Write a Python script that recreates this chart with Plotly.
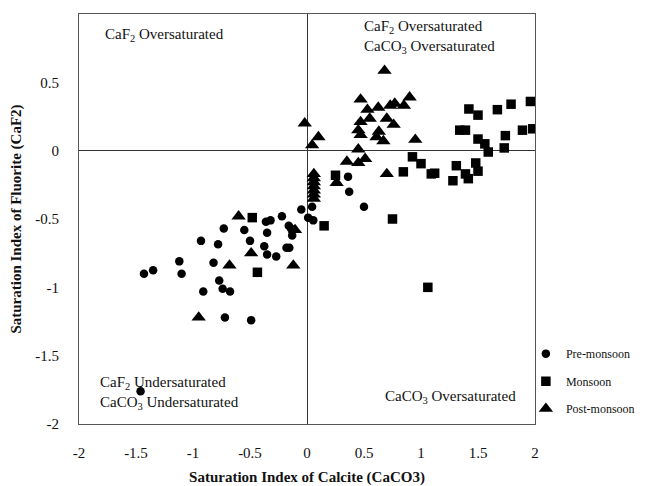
import plotly.graph_objects as go

# Pre-monsoon (circles)
pre_x = [-1.43, -1.35, -1.12, -1.10, -0.93, -0.91, -0.82, -0.78, -0.73, -0.77, -0.74, -0.675,
         -0.72, -0.49, -0.55, -0.50, -0.36, -0.32, -0.35, -0.375, -0.35, -0.27, -0.22, -0.16,
         -0.13, -0.14, -0.18, -0.155, -0.05, 0.01, 0.055, 0.045, 0.36, 0.37, 0.50, -1.46]
pre_y = [-0.90, -0.875, -0.81, -0.90, -0.66, -1.03, -0.82, -0.685, -0.57, -0.95, -1.01, -1.03,
         -1.22, -1.24, -0.58, -0.66, -0.52, -0.51, -0.60, -0.70, -0.76, -0.775, -0.48, -0.55,
         -0.62, -0.57, -0.71, -0.71, -0.43, -0.49, -0.51, -0.41, -0.19, -0.30, -0.41, -1.76]

# Monsoon (squares)
mon_x = [-0.48, -0.435, 0.15, 0.25, 0.75, 1.06, 0.925, 1.0, 0.845, 1.09, 1.12, 1.31, 1.28, 1.39,
         1.415, 1.48, 1.50, 1.34, 1.39, 1.42, 1.50, 1.50, 1.56, 1.59, 1.67, 1.74, 1.73, 1.79,
         1.89, 1.98, 1.96]
mon_y = [-0.49, -0.89, -0.55, -0.18, -0.50, -1.0, -0.045, -0.095, -0.155, -0.17, -0.165, -0.11,
         -0.22, -0.17, -0.205, -0.09, -0.15, 0.15, 0.15, 0.305, 0.26, 0.085, 0.05, -0.01, 0.30,
         0.11, 0.02, 0.34, 0.15, 0.16, 0.36]

# Post-monsoon (triangles)
post_x = [-0.60, -0.95, -0.68, -0.49, -0.105, -0.12, -0.02, 0.045, 0.10, 0.68, 0.47, 0.53, 0.625,
          0.73, 0.77, 0.85, 0.90, 0.55, 0.47, 0.45, 0.47, 0.70, 0.76, 0.63, 0.67, 0.61, 0.95,
          0.45, 0.35, 0.51, 0.45, 0.70, 0.26, 0.06, 0.06, 0.06, 0.06, 0.06, 0.06, 0.06]
post_y = [-0.48, -1.22, -0.84, -0.75, -0.58, -0.84, 0.20, 0.04, 0.10, 0.585, 0.375, 0.30, 0.315,
          0.33, 0.345, 0.33, 0.39, 0.235, 0.21, 0.15, 0.115, 0.235, 0.19, 0.14, 0.07, 0.10, 0.08,
          0.01, -0.08, -0.06, -0.09, -0.17, -0.235, -0.17, -0.20, -0.23, -0.26, -0.29, -0.32, -0.35]

x_ticks = [-2, -1.5, -1, -0.5, 0, 0.5, 1, 1.5, 2]
y_ticks = [-2, -1.5, -1, -0.5, 0, 0.5, 1]

FONT = "Liberation Serif, Times New Roman, serif"

fig = go.Figure()
fig.add_trace(go.Scatter(x=pre_x, y=pre_y, mode="markers", name="Pre-monsoon",
                         legendgroup="a",
                         marker=dict(symbol="circle", size=8.5, color="black")))
fig.add_trace(go.Scatter(x=mon_x, y=mon_y, mode="markers", name="Monsoon",
                         legendgroup="b",
                         marker=dict(symbol="square", size=9.5, color="black")))
fig.add_trace(go.Scatter(x=post_x, y=post_y, mode="markers", name="Post-monsoon",
                         legendgroup="c",
                         marker=dict(symbol="triangle-up", size=12.5, color="black")))

ann_font = dict(family=FONT, size=15, color="#111")
annotations = [
    dict(x=-1.79, y=0.845, text="CaF<sub>2</sub> Oversaturated", xanchor="left", yanchor="middle",
         showarrow=False, font=ann_font, align="left"),
    dict(x=0.48, y=0.835, text="CaF<sub>2</sub> Oversaturated<br>CaCO<sub>3</sub> Oversaturated",
         xanchor="left", yanchor="middle", showarrow=False, font=ann_font, align="left"),
    dict(x=-1.83, y=-1.77, text="CaF<sub>2</sub> Undersaturated<br>CaCO<sub>3</sub> Undersaturated",
         xanchor="left", yanchor="middle", showarrow=False, font=ann_font, align="left"),
    dict(x=0.67, y=-1.80, text="CaCO<sub>3</sub> Oversaturated", xanchor="left", yanchor="middle",
         showarrow=False, font=ann_font, align="left"),
]

# page body adds an 8px offset, so figure is 638x478 with margins reduced by 8 on left/top
fig.update_layout(
    width=638, height=478,
    margin=dict(l=71, r=111, t=6, b=62, autoexpand=False),
    paper_bgcolor="white", plot_bgcolor="white",
    font=dict(family=FONT, size=15, color="#111"),
    showlegend=True,
    legend=dict(x=0.98, y=0.207, xanchor="left", yanchor="top",
                font=dict(family=FONT, size=12, color="#111"),
                tracegroupgap=8.5, itemwidth=30,
                bgcolor="rgba(0,0,0,0)"),
    annotations=annotations,
)

fig.update_xaxes(range=[-2, 2], tickvals=x_ticks, ticktext=[f"{v:g}" for v in x_ticks],
                 showgrid=False, zeroline=True, zerolinecolor="#333", zerolinewidth=1,
                 showline=True, mirror=True, linecolor="#555", linewidth=1,
                 ticks="", ticklabelstandoff=15, automargin=False,
                 tickfont=dict(family=FONT, size=15),
                 title=dict(text="<b>Saturation Index of Calcite (CaCO3)</b>",
                            font=dict(family=FONT, size=15), standoff=14))
fig.update_yaxes(range=[-2, 1], tickvals=y_ticks, ticktext=[f"{v:g}" for v in y_ticks],
                 showgrid=False, zeroline=True, zerolinecolor="#333", zerolinewidth=1,
                 showline=True, mirror=True, linecolor="#555", linewidth=1,
                 ticks="", ticklabelstandoff=16, automargin=False,
                 tickfont=dict(family=FONT, size=15),
                 title=dict(text="<b>Saturation Index of Fluorite (CaF2)</b>",
                            font=dict(family=FONT, size=15), standoff=10))

fig.write_html("out.html")
